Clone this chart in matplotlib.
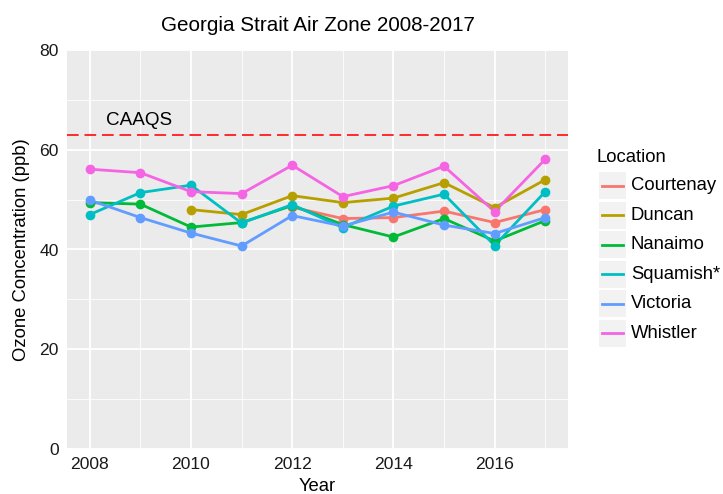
import matplotlib
matplotlib.use("Agg")
import matplotlib.pyplot as plt
from matplotlib.patches import Rectangle
from matplotlib.lines import Line2D

plt.rcParams["font.family"] = ["Liberation Sans", "DejaVu Sans"]

YEARS = [2008, 2009, 2010, 2011, 2012, 2013, 2014, 2015, 2016, 2017]

courtenay_years = [2012, 2013, 2014, 2015, 2016, 2017]
courtenay = [48.5, 46.2, 46.4, 47.7, 45.4, 48.0]
duncan_years = [2010, 2011, 2012, 2013, 2014, 2015, 2016, 2017]
duncan = [48.0, 47.0, 50.8, 49.4, 50.3, 53.4, 48.4, 54.0]
nanaimo = [49.4, 49.1, 44.5, 45.4, 48.8, 45.0, 42.5, 46.2, 41.7, 45.8]
squamish = [47.0, 51.4, 52.9, 45.3, 49.0, 44.4, 48.7, 51.1, 40.8, 51.6]
victoria = [49.9, 46.4, 43.3, 40.7, 46.8, 44.7, 47.5, 44.9, 43.2, 46.4]
whistler = [56.1, 55.4, 51.6, 51.2, 56.9, 50.6, 52.8, 56.7, 47.6, 58.1]

LOCATIONS = ["Courtenay", "Duncan", "Nanaimo", "Squamish*", "Victoria", "Whistler"]
COLORS = ["#F8766D", "#B79F00", "#00BA38", "#00BFC4", "#619CFF", "#F564E3"]
CAAQS = 63

series = [
    (courtenay_years, courtenay),
    (duncan_years, duncan),
    (YEARS, nanaimo),
    (YEARS, squamish),
    (YEARS, victoria),
    (YEARS, whistler),
]

fig = plt.figure(figsize=(7.23, 4.94), dpi=100)
ax = fig.add_axes([67 / 723, 45 / 494, 501 / 723, 399 / 494])
ax.set_facecolor("#EBEBEB")

ax.set_xlim(2007.55, 2017.45)
ax.set_ylim(0, 80)
ax.set_xticks([2008, 2010, 2012, 2014, 2016])
ax.set_xticks([2009, 2011, 2013, 2015, 2017], minor=True)
ax.set_yticks([0, 20, 40, 60, 80])
ax.set_yticks([10, 30, 50, 70], minor=True)
ax.grid(which="major", color="white", linewidth=1.3)
ax.grid(which="minor", color="white", linewidth=0.6)
ax.set_axisbelow(True)
for s in ax.spines.values():
    s.set_visible(False)
ax.tick_params(which="major", length=0, labelsize=12.6, labelcolor="#1a1a1a", pad=6)
ax.tick_params(which="minor", length=0)

for (xs, ys), c in zip(series, COLORS):
    ax.plot(xs, ys, color=c, linewidth=2.0, zorder=2, solid_capstyle="butt")
for (xs, ys), c in zip(series, COLORS):
    ax.plot(xs, ys, "o", color=c, markersize=7, markeredgewidth=0, zorder=3)

ax.axhline(CAAQS, color="#FF2A2A", linestyle=(0, (6, 3)), linewidth=1.4, zorder=2)
ax.text(2008.33, CAAQS + 1.2, "CAAQS", fontsize=13.6, ha="left", va="bottom")

ax.set_title("Georgia Strait Air Zone 2008-2017", fontsize=14.9, pad=14)
ax.set_xlabel("Year", fontsize=13.3, labelpad=4)
ax.set_ylabel("Ozone Concentration (ppb)", fontsize=13.3, labelpad=7)

# legend drawn ggplot-style
W, H = 723, 494
fig.text(597 / W, 1 - 158 / H, "Location", fontsize=13.3, ha="left", va="center")
row0 = 186
step = 29.4
for i, (name, c) in enumerate(zip(LOCATIONS, COLORS)):
    yc = row0 + i * step
    fig.patches.append(Rectangle(((599) / W, 1 - (yc + 13.5) / H), 27 / W, 27 / H,
                                 transform=fig.transFigure, facecolor="#F2F2F2", edgecolor="none"))
    fig.lines.append(Line2D([602 / W, 623 / W], [1 - yc / H, 1 - yc / H], transform=fig.transFigure,
                            color=c, linewidth=2.0))
    fig.text(631 / W, 1 - yc / H, name, fontsize=13.3, ha="left", va="center")

fig.savefig("out.png", dpi=100)
